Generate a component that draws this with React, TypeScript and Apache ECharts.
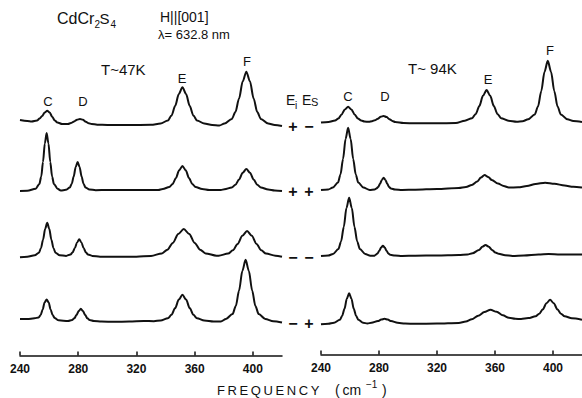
import React, { useEffect, useRef } from "react";
import * as echarts from "echarts";

// x: frequency (cm^-1), y: intensity above the row baseline (arbitrary units)
const tickLabels = [240, 280, 320, 360, 400];
const rowSigns = [["+", "\u2212"], ["+", "+"], ["\u2212", "\u2212"], ["\u2212", "+"]];
const peakNames = ["C", "D", "E", "F"];

// T ~ 47 K
const t47PlusMinus = [[240,5],[245,4],[248,3.5],[251.7,4.5],[253.5,6.5],[255.2,9],[257,12.5],[258.7,14.3],[260.4,12.5],[262.2,8],[263.9,4.5],[265.7,2.5],[269,1],[273,1],[275,2],[277.2,3.5],[279.2,5.3],[281.2,6],[283.2,5.2],[285.2,3.3],[287.2,1.8],[289.2,1],[293,0.3],[300,0],[315,0],[330,0.2],[336.6,1.5],[341.6,4.5],[344.1,9.5],[346.6,19],[349.1,31],[351.6,37.7],[354.1,31],[356.6,19],[359.1,9.5],[361.6,4.5],[366.6,1.5],[372,0],[377,-0.5],[380.5,1.5],[385.5,6],[388,13],[390.5,26.5],[393,43.5],[395.5,53.3],[398,43.5],[400.5,26.5],[403,13],[405.5,6],[410.5,1.5],[415,0],[420,-1]];
const t47PlusPlus = [[240,0],[245,0.3],[250.8,2.3],[253.3,7],[254.6,14.5],[255.8,29],[257.05,47.5],[258.3,58],[259.55,47.5],[260.8,29],[262.05,14.5],[263.3,7],[265.8,2.3],[268,0.5],[271.5,1.2],[274.2,3.5],[275.55,7.3],[276.9,14.5],[278.25,24],[279.6,29],[280.95,24],[282.3,14.5],[283.65,7.3],[285,3.5],[287.7,1.5],[292,0.8],[300,1],[320,1],[335,1],[338.1,2],[342.6,4],[344.85,7],[347.1,13],[349.35,20.7],[351.6,25],[353.85,20.7],[356.1,13],[358.35,7],[360.6,4],[365.1,2],[370,1],[378,1],[380.5,1.8],[385.5,3.5],[388,6.2],[390.5,11.5],[393,18.2],[395.5,22],[398,18.2],[400.5,11.5],[403,6.2],[405.5,3.5],[410.5,1.5],[415,0.5],[420,0]];
const t47MinusMinus = [[240,-0.5],[245,0],[250.15,1.4],[253,4],[254.4,8.5],[255.85,17],[257.3,28],[258.7,34],[260.1,28],[261.55,17],[263,8.5],[264.4,4],[267.25,1.4],[271.7,0.8],[274.7,2.2],[276.2,4.5],[277.7,8.7],[279.2,14.3],[280.7,17.4],[282.2,14.3],[283.7,8.7],[285.2,4.5],[286.7,2.2],[289.7,0.8],[295,0],[305,0],[320,0],[330,0.8],[337.5,3.3],[341.25,7],[345,13.8],[348.75,22.7],[352.5,27.7],[356.25,22.7],[360,13.8],[363.75,7],[367.5,3.3],[375,1],[376.5,1],[383,3.1],[386.25,6.4],[389.5,12.8],[392.75,21],[396,25.7],[399.25,21],[402.5,12.8],[405.75,6.4],[409,3.1],[415.5,1],[420,0]];
const t47MinusPlus = [[240,2.5],[245,2.5],[250,3.2],[252.8,4],[254.2,6.5],[255.55,12],[256.9,19],[258.3,22],[259.7,19],[261.05,12],[262.4,6.5],[263.8,3.5],[266.55,1.2],[273,0.5],[275.8,1.5],[277.3,3.2],[278.8,6.4],[280.3,10.4],[281.8,12.7],[283.3,10.4],[284.8,6.4],[286.3,3.2],[287.8,1.5],[290.8,0.5],[296,0],[305,-0.3],[315,0],[325,0.5],[332,0.3],[336.6,1],[341.6,3.2],[344.1,6.7],[346.6,13.4],[349.1,21.9],[351.6,26.7],[354.1,21.9],[356.6,13.4],[359.1,6.7],[361.6,3.2],[366.6,1],[373,0],[378,0],[381.5,2.5],[386,7.4],[388.25,15.4],[390.5,30.9],[392.75,50.6],[395,61.7],[397.25,50.6],[399.5,30.9],[401.75,15.4],[404,7.4],[408.5,2.5],[414,0.3],[420,-1]];

// T ~ 94 K
const t94PlusMinus = [[240,0.5],[245.2,1.1],[249.7,2.4],[252,4.5],[254.2,8.5],[256.45,13.6],[258.7,16.3],[260.95,13.6],[263.2,8.5],[265.45,4.5],[267.7,2.4],[270,1.5],[273,1.2],[275.2,1.8],[277.2,2.8],[279.2,4.3],[281.2,6.2],[283.2,7],[285.2,6],[287.2,3.8],[289.2,2],[291.2,1],[297,0],[305,-0.3],[320,-0.3],[333,0],[339.2,2.3],[344.2,4.8],[346.7,9],[349.2,17],[351.7,27.2],[354.2,33],[356.7,27.2],[359.2,17],[361.7,9],[364.2,4.8],[369.2,2.3],[375,1.3],[379,1.8],[382.9,3.7],[387.4,8.6],[389.65,16.5],[391.9,31.8],[394.15,51.3],[396.4,62.3],[398.65,51.3],[400.9,31.8],[403.15,16.5],[405.4,8.6],[409.9,3.7],[414,2],[420,1]];
const t94PlusPlus = [[240,0],[245,0.5],[248.2,2.5],[251.7,7.5],[253.45,15.6],[255.2,31],[256.95,51],[258.7,62.3],[260.45,51],[262.2,31],[263.95,15.6],[265.7,7.5],[269.2,2.5],[273.6,0],[277,0.5],[278.2,1.5],[279.45,3],[280.7,6.2],[281.95,10],[283.2,12.3],[284.45,10],[285.7,6.2],[286.95,3],[288.2,1.5],[291,0.5],[296,0],[305,0.3],[320,1],[335,2],[340,3],[344,5],[347.8,8.5],[350.3,12.5],[352.8,15],[355.3,13],[357.8,10],[362,6.5],[366,4],[369.5,2.5],[376,2.7],[382,4],[388,6],[394.6,7.3],[401,6.2],[408,4.5],[414,3.2],[420,2.5]];
const t94MinusMinus = [[240,0],[245,0.5],[248.3,2],[252,7],[253.85,14.6],[255.7,29],[257.55,48],[259.4,58.3],[261.25,48],[263.1,29],[264.95,14.6],[266.8,7],[270.5,2],[274,0.3],[277,0.3],[277.7,1.2],[278.95,2.6],[280.2,5.2],[281.45,8.4],[282.7,10.3],[283.95,8.4],[285.2,5.2],[286.45,2.6],[287.7,1.2],[291,0.5],[296,0],[305,0.3],[320,0.5],[335,1],[341,1.5],[344.5,2.7],[349,6],[351.25,9.2],[353.5,11],[355.75,9.2],[358,6],[360.25,3.5],[362.5,2.2],[367,0.8],[372,0],[380,0.5],[390,1.5],[397,2],[405,1.6],[412,1.5],[420,1.5]];
const t94MinusPlus = [[240,-0.5],[245,0],[249,1],[253,4],[254.6,8],[256.2,15],[257.8,25],[259.4,30.5],[261,25],[262.6,15],[264.2,8],[265.8,4],[269,1],[272,0.3],[274.8,1],[279.3,2.8],[281.55,4.2],[283.8,5],[286.05,4.2],[288.3,2.8],[292.8,1],[298,0.2],[305,0],[320,0.2],[335,0.8],[339.9,2.2],[344,4.5],[348.4,8],[352.65,11.7],[356.9,14],[361.15,12],[365.4,8.5],[369.6,6],[374,5],[378,4.8],[383,5.7],[388,7.5],[390.5,10],[393,14.5],[395.5,20.6],[398,24],[400.5,20.6],[403,14.5],[405.5,10],[408,7.5],[413,5.5],[420,4]];

const panels = [
  { rows: [t47PlusMinus, t47PlusPlus, t47MinusMinus, t47MinusPlus] },
  { rows: [t94PlusMinus, t94PlusPlus, t94MinusMinus, t94MinusPlus] },
];

// layout (pixels)
const FONT = "'Liberation Sans', Arial, sans-serif";
const panelLeft = [20, 321];
const panelWidth = 262;
const baselines = [
  [125, 191, 256.7, 321.5],
  [123, 190, 256, 323.8],
];
const axisY = [355.5, 354.5];

export default function App() {
  const ref = useRef<HTMLDivElement>(null);
  useEffect(() => {
    if (!ref.current) return;
    const chart = echarts.init(ref.current, null, { renderer: "svg" });
    const grid: any[] = [];
    const xAxis: any[] = [];
    const yAxis: any[] = [];
    const series: any[] = [];
    panels.forEach((panel, p) => {
      panel.rows.forEach((data, r) => {
        const gi = p * 4 + r;
        const base = baselines[p][r];
        grid.push({ left: panelLeft[p], width: panelWidth, top: base - 65, height: 70 });
        const isBottom = r === 3;
        xAxis.push({
          type: "value",
          gridIndex: gi,
          min: 240,
          max: 420,
          show: isBottom,
          offset: isBottom ? axisY[p] - (base + 5) : 0,
          splitLine: { show: false },
          axisLine: { show: true, onZero: false, lineStyle: { color: "#111", width: 1.5 } },
          axisTick: { show: true, inside: true, length: 4, customValues: tickLabels, lineStyle: { color: "#111", width: 1.5 } },
          axisLabel: {
            customValues: tickLabels,
            margin: 7,
            color: "#111",
            fontSize: 12,
            fontWeight: "bold",
            fontFamily: FONT,
          },
        });
        yAxis.push({ type: "value", gridIndex: gi, min: -5, max: 65, show: false });
        series.push({
          type: "line",
          xAxisIndex: gi,
          yAxisIndex: gi,
          data,
          showSymbol: false,
          smooth: 0.3,
          smoothMonotone: "x",
          silent: true,
          lineStyle: { color: "#111", width: 2 },
        });
      });
    });

    const txt = (text: string, x: number, y: number, size: number, extra: any = {}) => ({
      type: "text",
      x,
      y,
      silent: true,
      style: {
        text,
        fill: "#111",
        font: `${extra.weight || "normal"} ${size}px ${FONT}`,
        textAlign: extra.align || "center",
        textVerticalAlign: "middle",
      },
    });

    const labelPos = [
      [[48, 101], [83, 101], [182, 78], [247, 61]],
      [[348, 96], [385, 96], [488, 79], [550, 50]],
    ];
    const graphics: any[] = [];
    labelPos.forEach((pp) =>
      pp.forEach(([x, y], i) => graphics.push(txt(peakNames[i], x, y, 13)))
    );
    const signY = [126, 191.5, 257, 323];
    rowSigns.forEach((s, r) => {
      graphics.push(txt(s[0], 293, signY[r], 16, { weight: "bold" }));
      graphics.push(txt(s[1], 309, signY[r], 16, { weight: "bold" }));
    });
    // headings
    graphics.push(txt("CdCr", 57, 18.5, 16, { align: "left" }));
    graphics.push(txt("2", 94.5, 24, 10, { align: "left" }));
    graphics.push(txt("S", 99.5, 18.5, 15, { align: "left" }));
    graphics.push(txt("4", 110.5, 24, 10, { align: "left" }));
    graphics.push(txt("H||[001]", 160, 17, 14, { align: "left" }));
    graphics.push(txt("\u03bb= 632.8 nm", 158, 34, 13, { align: "left" }));
    graphics.push(txt("T~47K", 101, 69, 15, { align: "left" }));
    graphics.push(txt("T~ 94K", 408, 68, 15, { align: "left" }));
    graphics.push(txt("E", 286, 100, 14, { align: "left" }));
    graphics.push(txt("i", 295, 105, 10, { align: "left" }));
    graphics.push(txt("E", 302, 100, 14, { align: "left" }));
    graphics.push(txt("S", 311, 102, 11, { align: "left" }));
    graphics.push(txt("F\u2009R\u2009E\u2009Q\u2009U\u2009E\u2009N\u2009C\u2009Y", 217, 390, 13, { align: "left" }));
    graphics.push(txt("(\u2009cm", 335, 390, 14, { align: "left" }));
    graphics.push(txt("\u22121", 366, 384, 10, { align: "left" }));
    graphics.push(txt(")", 382, 390, 14, { align: "left" }));

    chart.setOption({
      animation: false,
      backgroundColor: "#fff",
      grid,
      xAxis,
      yAxis,
      series,
      graphic: { elements: graphics },
    });
    return () => chart.dispose();
  }, []);
  return (
    <div
      ref={ref}
      style={{ position: "fixed", left: 0, top: 0, width: 582, height: 398 }}
    />
  );
}
